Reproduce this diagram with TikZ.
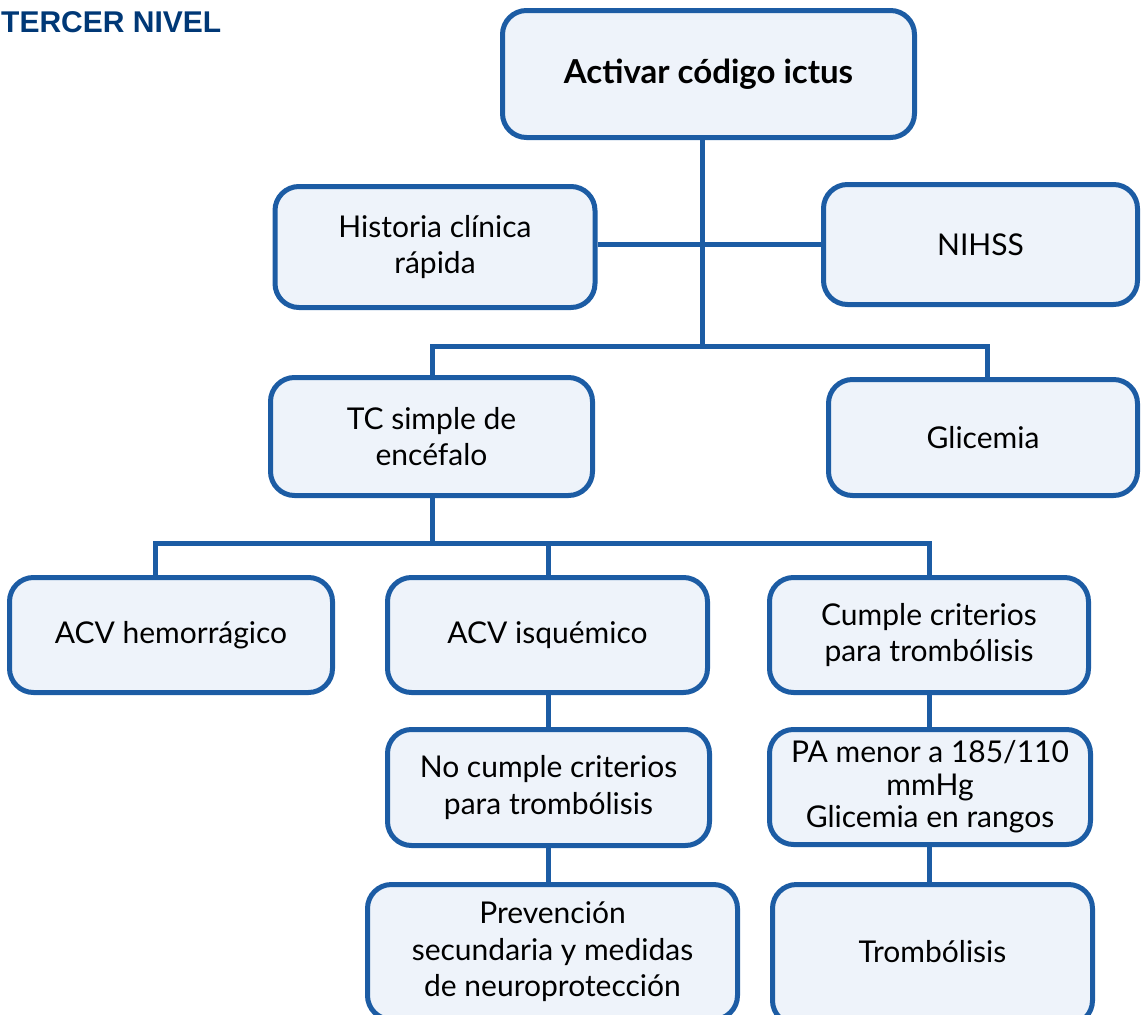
\documentclass[tikz,border=0pt]{standalone}
\usepackage{fontspec}
\setmainfont{Lato}
\newfontfamily\headfont{Liberation Sans}
\definecolor{boxblue}{RGB}{28,92,164}
\definecolor{boxfill}{RGB}{238,243,250}
\definecolor{headblue}{RGB}{0,56,118}
\begin{document}
\begin{tikzpicture}[x=1pt,y=-1pt,
  box/.style={draw=boxblue, fill=boxfill, line width=5pt, rounded corners=24pt,
    align=center, inner sep=0pt, text=black,
    font=\fontsize{30}{36.5}\selectfont},
  link/.style={draw=boxblue, line width=5pt}]
\useasboundingbox (0,0) rectangle (1141,1015);

% heading
\node[anchor=base west, inner sep=0pt, text=headblue,
  font=\headfont\bfseries\fontsize{30}{34}\selectfont] (head) at (1,32) {TERCER NIVEL};

% boxes
\node[box, minimum width=412pt, minimum height=127pt, font=\bfseries\fontsize{33}{38}\selectfont]
  (act) at (708.5,74) {Activar código ictus};
\node[box, minimum width=320pt, minimum height=121pt] (hist) at (435,247) {Historia clínica\\rápida};
\node[box, minimum width=314pt, minimum height=120pt] (nihss) at (980.5,244.5) {NIHSS};
\node[box, minimum width=322pt, minimum height=118pt] (tc) at (431.5,436.5) {TC simple de\\encéfalo};
\node[box, minimum width=309pt, minimum height=116pt] (gly) at (983,437.5) {Glicemia};
\node[box, minimum width=323pt, minimum height=115pt] (hem) at (171,635) {ACV hemorrágico};
\node[box, minimum width=320pt, minimum height=115pt] (isq) at (547.5,635) {ACV isquémico};
\node[box, minimum width=319pt, minimum height=115pt] (cum) at (929,635) {Cumple criterios\\para trombólisis};
\node[box, minimum width=322pt, minimum height=116pt] (nocum) at (548.5,787.5) {No cumple criterios\\para trombólisis};
\node[box, minimum width=321pt, minimum height=115pt, font=\fontsize{30}{32.5}\selectfont]
  (pa) at (930,787) {PA menor a 185/110\\mmHg\\Glicemia en rangos};
\node[box, minimum width=370pt, minimum height=135pt] (prev) at (552.5,952)
  {Prevención\\secundaria y medidas\\de neuroprotección};
\node[box, minimum width=320pt, minimum height=140pt] (trom) at (932.5,954.5)
  {\raisebox{6pt}{Trombólisis}};

% junction points of the connector tree
\coordinate (spine) at (702,346);
\coordinate (b1l) at (432,346);
\coordinate (b1r) at (987,346);
\coordinate (b2) at (432,543);
\coordinate (b2l) at (155,543);
\coordinate (b2m) at (548,543);
\coordinate (b2r) at (929,543);

% connectors
\draw[link] (act.south -| spine) -- (spine);
\draw[link] (hist.east |- nihss.west) -- (nihss.west);
\draw[link] (tc.north -| b1l) -- (b1l) -- (b1r) -- (gly.north -| b1r);
\draw[link] (tc.south -| b2) -- (b2);
\draw[link] (hem.north -| b2l) -- (b2l) -- (b2r) -- (cum.north -| b2r);
\draw[link] (b2m) -- (isq.north -| b2m);
\draw[link] (isq.south -| b2m) -- (nocum.north -| b2m);
\draw[link] (nocum.south -| b2m) -- (prev.north -| b2m);
\draw[link] (cum.south -| b2r) -- (pa.north -| b2r);
\draw[link] (pa.south -| b2r) -- (trom.north -| b2r);
\end{tikzpicture}
\end{document}
